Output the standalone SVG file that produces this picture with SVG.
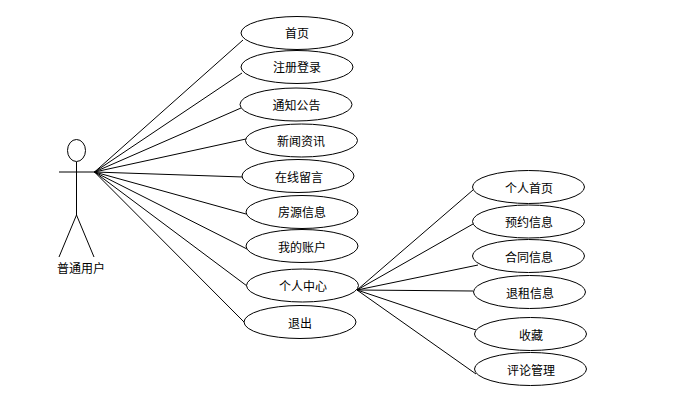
<svg xmlns="http://www.w3.org/2000/svg" width="674" height="407" viewBox="0 0 674 407">
<style>
ellipse{fill:#fff;stroke:#000;stroke-width:1}
line{stroke:#000;stroke-width:1;fill:none}
text{font-family:"Noto Sans CJK SC","Noto Sans",sans-serif;font-size:12px;fill:#000;text-anchor:middle}
</style>
<rect width="674" height="407" fill="#fff"/>
<g id="connectors">
<line x1="94.500" y1="172" x2="243" y2="40"/>
<line x1="94.500" y1="172" x2="242" y2="73"/>
<line x1="94.500" y1="172" x2="241" y2="108"/>
<line x1="94.500" y1="172" x2="246" y2="139"/>
<line x1="94.500" y1="172" x2="243" y2="177"/>
<line x1="94.500" y1="172" x2="246" y2="214"/>
<line x1="94.500" y1="172" x2="247" y2="249"/>
<line x1="94.500" y1="172" x2="247" y2="286"/>
<line x1="94.500" y1="172" x2="245" y2="323"/>
<line x1="357" y1="290" x2="473" y2="190"/>
<line x1="357" y1="290" x2="473" y2="224"/>
<line x1="357" y1="290" x2="478" y2="265"/>
<line x1="357" y1="290" x2="473" y2="291"/>
<line x1="357" y1="290" x2="476" y2="330"/>
<line x1="357" y1="290" x2="476" y2="374"/>
</g>
<g id="actor">
<ellipse cx="76.500" cy="150.500" rx="9" ry="11"/>
<line x1="76.500" y1="162" x2="76.500" y2="215"/>
<line x1="59" y1="172" x2="95" y2="172"/>
<line x1="76.500" y1="215" x2="59" y2="257"/>
<line x1="76.500" y1="215" x2="94" y2="257"/>
<text x="81" y="273">普通用户</text>
</g>
<g id="n1"><ellipse cx="297" cy="33" rx="56" ry="16.500"/><text x="297" y="38">首页</text></g>
<g id="n2"><ellipse cx="297" cy="67" rx="56" ry="16.500"/><text x="297" y="72">注册登录</text></g>
<g id="n3"><ellipse cx="296" cy="104.500" rx="56" ry="16.500"/><text x="296.500" y="110">通知公告</text></g>
<g id="n4"><ellipse cx="301.500" cy="140.500" rx="56" ry="16.500"/><text x="301" y="146">新闻资讯</text></g>
<g id="n5"><ellipse cx="298" cy="176" rx="56" ry="16.500"/><text x="299" y="182">在线留言</text></g>
<g id="n6"><ellipse cx="302" cy="212" rx="56" ry="16.500"/><text x="302" y="217">房源信息</text></g>
<g id="n7"><ellipse cx="302" cy="246" rx="56" ry="16.500"/><text x="302" y="252">我的账户</text></g>
<g id="n8"><ellipse cx="302.500" cy="285.500" rx="56" ry="16.500"/><text x="303" y="291">个人中心</text></g>
<g id="n9"><ellipse cx="300" cy="322" rx="56" ry="16.500"/><text x="300" y="328">退出</text></g>
<g id="m1"><ellipse cx="528.500" cy="187" rx="56" ry="16.500"/><text x="529" y="193">个人首页</text></g>
<g id="m2"><ellipse cx="528.500" cy="221.500" rx="56" ry="16.500"/><text x="529" y="227">预约信息</text></g>
<g id="m3"><ellipse cx="528.500" cy="256" rx="56" ry="16.500"/><text x="529" y="262">合同信息</text></g>
<g id="m4"><ellipse cx="529.500" cy="292" rx="56" ry="16.500"/><text x="530" y="298">退租信息</text></g>
<g id="m5"><ellipse cx="530.500" cy="334" rx="56" ry="16.500"/><text x="531" y="340">收藏</text></g>
<g id="m6"><ellipse cx="530.500" cy="369" rx="56" ry="16.500"/><text x="531" y="375">评论管理</text></g>
</svg>
